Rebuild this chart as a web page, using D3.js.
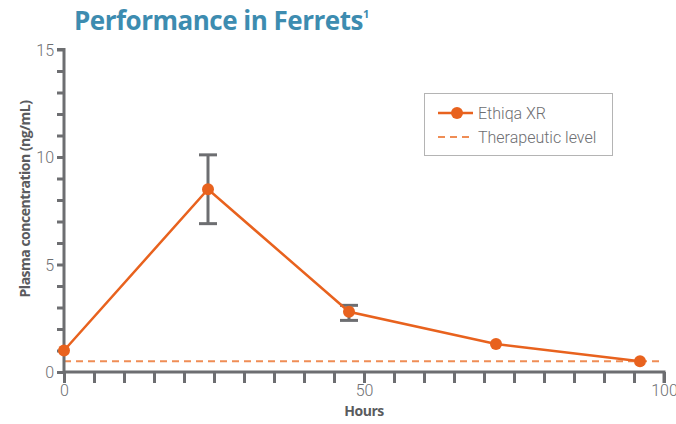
<!DOCTYPE html>
<html><head><meta charset="utf-8">
<script src="https://cdn.jsdelivr.net/npm/d3@7"></script>
<style>
html,body{margin:0;padding:0;background:#fff;}
svg{display:block;}
</style></head>
<body>
<svg id="chart" width="676" height="424"></svg>
<script>
const hours = [0, 24, 47.5, 72, 96];
const concentration = [1.0, 8.5, 2.8, 1.3, 0.5];
const errLow = [null, 6.9, 2.4, null, null];
const errHigh = [null, 10.1, 3.1, null, null];
const therapeuticLevel = 0.5;
const xTickLabels = [0, 50, 100];
const yTickLabels = [0, 5, 10, 15];
const seriesNames = ["Ethiqa XR", "Therapeutic level"];

const orange = "#e8621e", dashOrange = "#ef8d55", grey = "#6d6e71", teal = "#3d8cb0";
const svg = d3.select("#chart");
const x = d3.scaleLinear().domain([0, 100]).range([64, 664]);
const y = d3.scaleLinear().domain([0, 15]).range([372, 49.5]);

// title
const t = svg.append("text").attr("x", 74).attr("y", 30)
  .attr("font-family", "Open Sans").attr("font-weight", 700).attr("font-size", 26)
  .attr("letter-spacing", -0.5).attr("fill", teal).text("Performance in Ferrets");
t.append("tspan").attr("font-size", 11).attr("dy", -12).attr("letter-spacing", 0).text("1");

// therapeutic level
svg.append("line").attr("x1", x(0)).attr("x2", x(100)).attr("y1", y(therapeuticLevel)).attr("y2", y(therapeuticLevel))
  .attr("stroke", dashOrange).attr("stroke-width", 2).attr("stroke-dasharray", "7,5");

// y axis
const yAxis = d3.axisLeft(y).tickValues(d3.range(0, 16, 1)).tickSize(7)
  .tickFormat(d => yTickLabels.includes(d) ? d : "");
const gy = svg.append("g").attr("transform", `translate(${x(0)},0)`).call(yAxis);
// x axis
const xAxis = d3.axisBottom(x).tickValues(d3.range(0, 101, 5)).tickSize(11)
  .tickFormat(d => xTickLabels.includes(d) ? d : "");
const gx = svg.append("g").attr("transform", `translate(0,${y(0)})`).call(xAxis);
[gx, gy].forEach(g => {
  g.select(".domain").attr("stroke", grey).attr("stroke-width", 3);
  g.selectAll(".tick line").attr("stroke", grey).attr("stroke-width", 3);
  g.selectAll(".tick text").attr("fill", grey).attr("font-family", "Roboto").attr("font-weight", 300).attr("font-size", 16);
});
gy.select(".domain").attr("d", `M-7,${y(15)}H0V${y(0)}`);
gx.select(".domain").attr("d", `M${x(0)},0H${x(100)}V11`);
gy.selectAll(".tick text").attr("x", -10).attr("dy", "0.35em");
gx.selectAll(".tick text").attr("y", 13);

// axis titles
svg.append("text").attr("transform", `translate(30,199) rotate(-90)`).attr("text-anchor", "middle")
  .attr("font-family", "Open Sans").attr("font-weight", 700).attr("font-size", 14).attr("letter-spacing", -0.5)
  .attr("fill", "#5a5b5e").text("Plasma concentration (ng/mL)");
svg.append("text").attr("x", x(50)).attr("y", 416).attr("text-anchor", "middle")
  .attr("font-family", "Open Sans").attr("font-weight", 700).attr("font-size", 14).attr("letter-spacing", -0.5)
  .attr("fill", "#5a5b5e").text("Hours");

// error bars
const errIdx = hours.map((h, i) => i).filter(i => errLow[i] !== null);
const eb = svg.append("g").attr("stroke", grey).attr("stroke-width", 3);
errIdx.forEach(i => {
  eb.append("line").attr("x1", x(hours[i])).attr("x2", x(hours[i])).attr("y1", y(errLow[i])).attr("y2", y(errHigh[i]));
  [errLow[i], errHigh[i]].forEach(v => eb.append("line").attr("x1", x(hours[i]) - 9).attr("x2", x(hours[i]) + 9).attr("y1", y(v)).attr("y2", y(v)));
});

// series
const pts = hours.map((h, i) => [h, concentration[i]]);
svg.append("path").datum(pts).attr("fill", "none").attr("stroke", orange).attr("stroke-width", 2.5)
  .attr("d", d3.line().x(d => x(d[0])).y(d => y(d[1])));
svg.selectAll("circle.pt").data(pts).enter().append("circle").attr("class", "pt")
  .attr("cx", d => x(d[0])).attr("cy", d => y(d[1])).attr("r", 6).attr("fill", orange);

// legend
const lg = svg.append("g");
lg.append("rect").attr("x", 424.5).attr("y", 93.5).attr("width", 188).attr("height", 62)
  .attr("fill", "#fff").attr("stroke", "#b4b4b4").attr("stroke-width", 1);
lg.append("line").attr("x1", 438).attr("x2", 473).attr("y1", 113).attr("y2", 113).attr("stroke", orange).attr("stroke-width", 2.5);
lg.append("circle").attr("cx", 457).attr("cy", 113).attr("r", 6).attr("fill", orange);
lg.append("line").attr("x1", 438).attr("x2", 473).attr("y1", 137).attr("y2", 137).attr("stroke", dashOrange).attr("stroke-width", 2).attr("stroke-dasharray", "7,5");
seriesNames.forEach((n, i) => lg.append("text").attr("x", 478).attr("y", 113 + i * 24).attr("dy", "0.35em")
  .attr("font-family", "Roboto").attr("font-weight", 300).attr("font-size", 16).attr("fill", grey).text(n));
</script>
</body></html>
